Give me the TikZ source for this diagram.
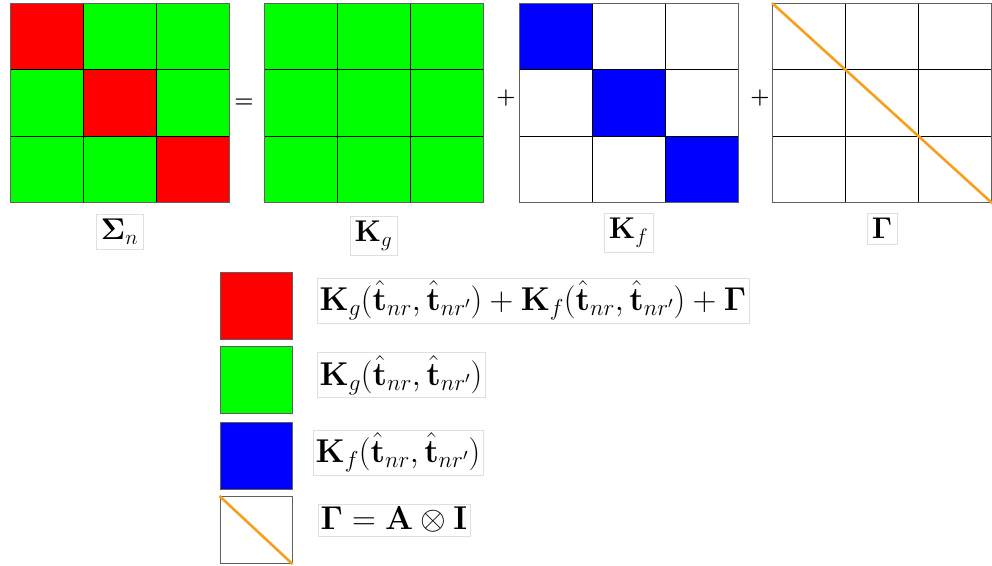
\documentclass[tikz,border=0pt]{standalone}
\usepackage{fix-cm}
\usepackage{amsmath,amssymb,bm}
\usetikzlibrary{positioning}
\definecolor{diagorange}{RGB}{246,160,28}
\definecolor{cellgreen}{RGB}{0,255,0}

\begin{document}
\begin{tikzpicture}[x=1pt, y=-1pt, font=\fontsize{30}{34}\selectfont, >=stealth,
    mat/.style={draw=gray!75!black, line width=1pt, minimum width=219pt, minimum height=199pt, inner sep=0pt},
    gridline/.style={black, line width=0.9pt},
    lbl/.style={draw=gray!25, fill=white, inner sep=5pt},
    legtext/.style={draw=gray!25, fill=white, inner sep=3pt, font=\fontsize{33}{37}\selectfont},
    swatch/.style={draw=gray!75!black, line width=1pt, minimum width=72pt, minimum height=67pt, inner sep=0pt},
    op/.style={font=\fontsize{22}{24}\selectfont\bfseries}]
    \useasboundingbox (0,0) rectangle (992,565);

    % Sigma_n
    \begin{scope}[shift={(10,3.5)}]
        \fill[cellgreen] (0,0) rectangle (219,199);
        \foreach \k in {0,1,2}
            \fill[red] (\k*73,\k*66.33) rectangle ++(73,66.33);
        \foreach \k in {1,2} {
            \draw[gridline] (\k*73,0) -- (\k*73,199);
            \draw[gridline] (0,\k*66.33) -- (219,\k*66.33);
        }
        \node[mat] (sigma) at (109.5,99.5) {};
    \end{scope}

    % K_g
    \begin{scope}[shift={(264,3.5)}]
        \fill[cellgreen] (0,0) rectangle (219,199);
        \foreach \k in {1,2} {
            \draw[gridline] (\k*73,0) -- (\k*73,199);
            \draw[gridline] (0,\k*66.33) -- (219,\k*66.33);
        }
        \node[mat] (kg) at (109.5,99.5) {};
    \end{scope}

    % K_f
    \begin{scope}[shift={(519,3.5)}]
        \fill[white] (0,0) rectangle (219,199);
        \foreach \k in {0,1,2}
            \fill[blue] (\k*73,\k*66.33) rectangle ++(73,66.33);
        \foreach \k in {1,2} {
            \draw[gridline] (\k*73,0) -- (\k*73,199);
            \draw[gridline] (0,\k*66.33) -- (219,\k*66.33);
        }
        \node[mat] (kf) at (109.5,99.5) {};
    \end{scope}

    % Gamma
    \begin{scope}[shift={(772.5,3.5)}]
        \fill[white] (0,0) rectangle (219,199);
        \foreach \k in {1,2} {
            \draw[gridline] (\k*73,0) -- (\k*73,199);
            \draw[gridline] (0,\k*66.33) -- (219,\k*66.33);
        }
        \node[mat] (gam) at (109.5,99.5) {};
    \end{scope}
    \draw[diagorange, line width=2.6pt] (gam.north west) -- (gam.south east);

    \node[op] (eq) at (244,103) {=};
    \node[op] (plusa) at (506,98) {+};
    \node[op] (plusb) at (760,98) {+};

    \node[lbl, below=11pt of sigma] (lsigma) {$\boldsymbol{\Sigma}_n$};
    \node[lbl, below=13pt of kg] (lkg) {$\mathbf{K}_g$};
    \node[lbl, below=10pt of kf] (lkf) {$\mathbf{K}_f$};
    \node[lbl, below=10pt of gam] (lgam) {$\boldsymbol{\Gamma}$};

    % legend
    \node[swatch, fill=red] (sred) at (256,305.5) {};
    \node[swatch, fill=cellgreen] (sgreen) at (256,380) {};
    \node[swatch, fill=blue] (sblue) at (256,455.5) {};
    \node[swatch, fill=white] (sgam) at (256,530) {};
    \draw[diagorange, line width=2.6pt] (sgam.north west) -- (sgam.south east);

    \node[legtext, right=24pt of sred, yshift=5pt] (tred)
        {$\mathbf{K}_g(\hat{\mathbf{t}}_{nr},\hat{\mathbf{t}}_{nr'})+\mathbf{K}_f(\hat{\mathbf{t}}_{nr},\hat{\mathbf{t}}_{nr'})+\boldsymbol{\Gamma}$};
    \node[legtext, right=24pt of sgreen, yshift=5pt] (tgreen)
        {$\mathbf{K}_g(\hat{\mathbf{t}}_{nr},\hat{\mathbf{t}}_{nr'})$};
    \node[legtext, right=20pt of sblue, yshift=3pt] (tblue)
        {$\mathbf{K}_f(\hat{\mathbf{t}}_{nr},\hat{\mathbf{t}}_{nr'})$};
    \node[legtext, right=25pt of sgam, yshift=10pt] (tgam)
        {$\boldsymbol{\Gamma}=\mathbf{A}\otimes\mathbf{I}$};
\end{tikzpicture}
\end{document}
